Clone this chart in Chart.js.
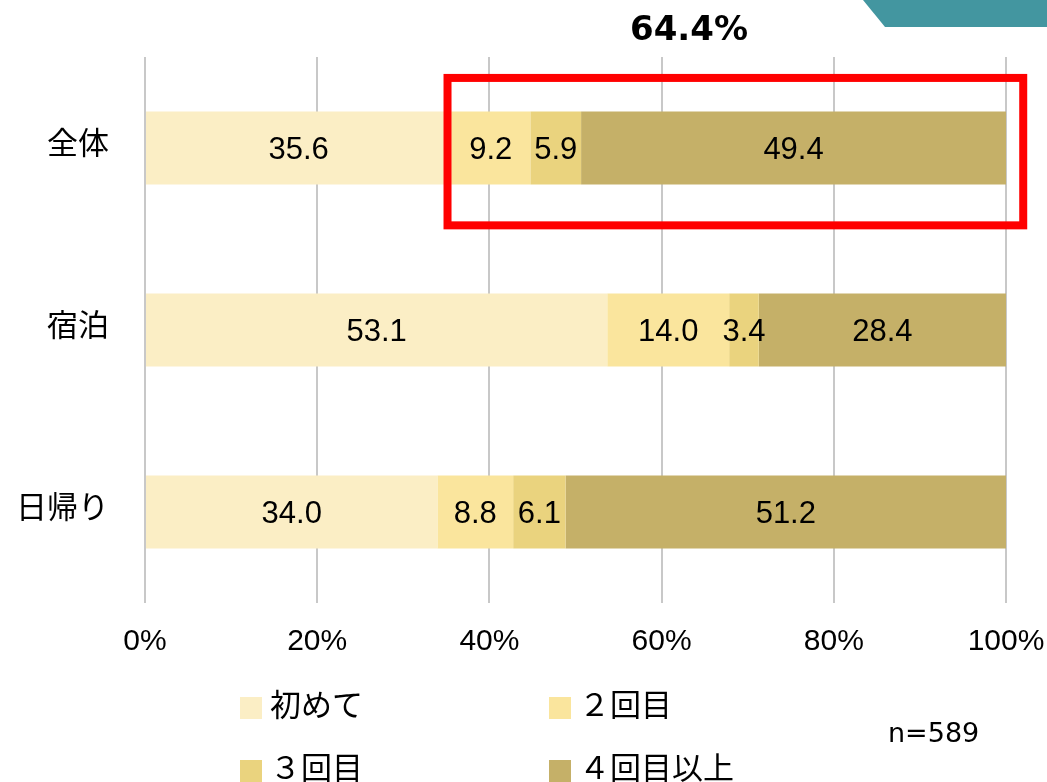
<!DOCTYPE html>
<html>
<head>
<meta charset="utf-8">
<script src="https://cdn.jsdelivr.net/npm/chart.js@4"></script>
<style>
  html, body { margin: 0; padding: 0; background: #fff; }
  #wrap { width: 1047px; height: 782px; position: relative; }
</style>
</head>
<body>
<div id="wrap"><canvas id="visitChart" width="1047" height="782"></canvas></div>
<script>
const categories = ["全体", "宿泊", "日帰り"];
const seriesNames = ["初めて", "２回目", "３回目", "４回目以上"];
const firstTime = [35.6, 53.1, 34.0];
const secondTime = [9.2, 14.0, 8.8];
const thirdTime = [5.9, 3.4, 6.1];
const fourPlus = [49.4, 28.4, 51.2];
const xTicks = [0, 20, 40, 60, 80, 100];
const headline = "64.4%";
const sampleNote = "n=589";

const colors = ["#FBEEC5", "#FAE59D", "#EAD37E", "#C5B068"];
const jpFont = "'Noto Sans CJK JP', 'Noto Sans', sans-serif";

const series = [firstTime, secondTime, thirdTime, fourPlus];
// 100% stacked: each row scaled to its own total, labels keep the raw value
const rowTotals = categories.map((_, j) => series.reduce((s, arr) => s + arr[j], 0));

const barLabels = {
  id: "barLabels",
  afterDatasetsDraw(chart) {
    const c = chart.ctx;
    c.save();
    c.font = "31px 'Liberation Sans', Arial, sans-serif";
    c.fillStyle = "#000";
    c.textAlign = "center";
    c.textBaseline = "middle";
    chart.data.datasets.forEach((ds, i) => {
      chart.getDatasetMeta(i).data.forEach((bar, j) => {
        c.fillText(ds.raw[j].toFixed(1), (bar.x + bar.base) / 2, bar.y + 2);
      });
    });
    c.restore();
  }
};

// headline, red frame, teal corner, legend grid, n note
const extras = {
  id: "extras",
  afterDraw(chart) {
    const c = chart.ctx;
    const x = chart.scales.x;
    const y = chart.scales.y;
    c.save();

    c.fillStyle = "#4396A0";
    c.beginPath();
    c.moveTo(863, 0);
    c.lineTo(1047, 0);
    c.lineTo(1047, 27);
    c.lineTo(885, 27);
    c.closePath();
    c.fill();

    c.fillStyle = "#000";
    c.font = "bold 34px 'DejaVu Sans', sans-serif";
    c.textAlign = "center";
    c.textBaseline = "middle";
    c.fillText(headline, 689, 31);

    const band = (y.bottom - y.top) / categories.length;
    const cy = y.getPixelForValue(0);
    const left = x.getPixelForValue(firstTime[0]) - 4;
    const right = x.getPixelForValue(102);
    c.strokeStyle = "#FF0000";
    c.lineWidth = 8;
    c.strokeRect(left, cy - band * 0.385, right - left, band * 0.81);

    c.textAlign = "left";
    c.font = "31px " + jpFont;
    const cols = [240, 549];
    const rows = [708, 771];
    seriesNames.forEach((name, i) => {
      const bx = cols[i % 2];
      const by = rows[Math.floor(i / 2)];
      c.fillStyle = colors[i];
      c.fillRect(bx, by - 11, 22, 22);
      c.fillStyle = "#000";
      c.fillText(name, bx + 30, by - 4);
    });

    c.font = "27px 'DejaVu Sans', sans-serif";
    c.fillText(sampleNote, 888, 735);

    c.restore();
  }
};

new Chart(document.getElementById("visitChart"), {
  type: "bar",
  data: {
    labels: categories,
    datasets: series.map((vals, i) => ({
      label: seriesNames[i],
      raw: vals,
      data: vals.map((v, j) => v / rowTotals[j] * 100),
      backgroundColor: colors[i],
      borderWidth: 0,
      categoryPercentage: 0.4,
      barPercentage: 1.0,
    })),
  },
  options: {
    indexAxis: "y",
    responsive: false,
    animation: false,
    layout: { padding: { left: 0, right: 41, top: 57, bottom: 0 } },
    plugins: {
      legend: { display: false },
      tooltip: { enabled: false },
    },
    scales: {
      x: {
        stacked: true,
        min: 0,
        max: 100,
        afterBuildTicks(axis) {
          axis.ticks = xTicks.map(v => ({ value: v }));
        },
        afterFit(axis) {
          axis.height = 179;
          axis.paddingLeft = 0;
          axis.paddingRight = 0;
        },
        border: { display: false },
        grid: { color: "#C8C8C8", lineWidth: 2, drawTicks: false },
        ticks: {
          padding: 21,
          color: "#000",
          font: { size: 30, family: "'Liberation Sans', Arial, sans-serif" },
          callback: v => v + "%",
        },
      },
      y: {
        stacked: true,
        afterFit(axis) { axis.width = 145; },
        border: { display: false },
        grid: { display: false, drawTicks: false },
        ticks: {
          padding: 36,
          labelOffset: -6,
          color: "#000",
          font: { size: 31, family: jpFont },
        },
      },
    },
  },
  plugins: [barLabels, extras],
});
</script>
</body>
</html>
